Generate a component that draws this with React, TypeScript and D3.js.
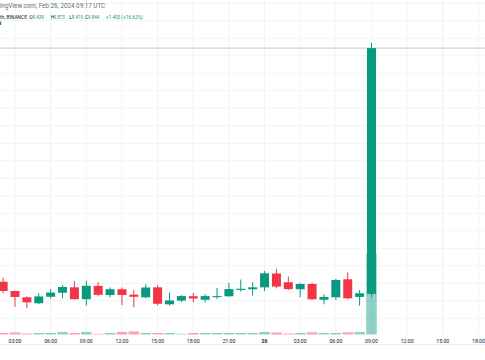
import React, { useEffect } from "react";
import * as d3 from "d3";

// hourly candles, UTC
const times = [
  "2024-02-25T02:00Z", "2024-02-25T03:00Z", "2024-02-25T04:00Z", "2024-02-25T05:00Z",
  "2024-02-25T06:00Z", "2024-02-25T07:00Z", "2024-02-25T08:00Z", "2024-02-25T09:00Z",
  "2024-02-25T10:00Z", "2024-02-25T11:00Z", "2024-02-25T12:00Z", "2024-02-25T13:00Z",
  "2024-02-25T14:00Z", "2024-02-25T15:00Z", "2024-02-25T16:00Z", "2024-02-25T17:00Z",
  "2024-02-25T18:00Z", "2024-02-25T19:00Z", "2024-02-25T20:00Z", "2024-02-25T21:00Z",
  "2024-02-25T22:00Z", "2024-02-25T23:00Z", "2024-02-26T00:00Z", "2024-02-26T01:00Z",
  "2024-02-26T02:00Z", "2024-02-26T03:00Z", "2024-02-26T04:00Z", "2024-02-26T05:00Z",
  "2024-02-26T06:00Z", "2024-02-26T07:00Z", "2024-02-26T08:00Z", "2024-02-26T09:00Z",
];
const opens = [8.509, 8.456, 8.42, 8.386, 8.423, 8.446, 8.477, 8.409, 8.485, 8.433, 8.466, 8.435, 8.42, 8.477, 8.38, 8.401, 8.426, 8.406, 8.425, 8.426, 8.462, 8.466, 8.477, 8.556, 8.506, 8.466, 8.496, 8.406, 8.42, 8.523, 8.422, 8.439];
const highs = [8.532, 8.458, 8.425, 8.443, 8.467, 8.49, 8.513, 8.515, 8.507, 8.477, 8.476, 8.462, 8.495, 8.49, 8.446, 8.433, 8.445, 8.439, 8.473, 8.502, 8.522, 8.506, 8.57, 8.582, 8.538, 8.502, 8.502, 8.437, 8.525, 8.563, 8.462, 9.873];
const lows = [8.443, 8.366, 8.357, 8.382, 8.412, 8.414, 8.408, 8.373, 8.425, 8.42, 8.376, 8.363, 8.414, 8.373, 8.372, 8.393, 8.391, 8.39, 8.41, 8.423, 8.452, 8.429, 8.456, 8.471, 8.462, 8.42, 8.405, 8.38, 8.405, 8.409, 8.372, 8.419];
const closes = [8.456, 8.422, 8.391, 8.425, 8.447, 8.479, 8.409, 8.486, 8.434, 8.466, 8.433, 8.423, 8.476, 8.383, 8.402, 8.427, 8.413, 8.427, 8.427, 8.467, 8.469, 8.477, 8.557, 8.481, 8.467, 8.496, 8.409, 8.422, 8.519, 8.414, 8.443, 9.844];
const volumes = [15, 20, 10, 15, 15, 25, 15, 25, 7, 15, 25, 30, 15, 15, 15, 7, 15, 15, 15, 15, 15, 15, 25, 20, 10, 15, 22, 15, 15, 22, 25, 810];

const priceTicks = [8.3, 8.4, 8.5, 8.6, 8.7, 8.8, 8.9, 9.0, 9.1, 9.2, 9.3, 9.4, 9.5, 9.6, 9.7, 9.8, 9.9, 10.0, 10.1];
const timeTicks = [
  "2024-02-25T03:00Z", "2024-02-25T06:00Z", "2024-02-25T09:00Z", "2024-02-25T12:00Z",
  "2024-02-25T15:00Z", "2024-02-25T18:00Z", "2024-02-25T21:00Z", "2024-02-26T00:00Z",
  "2024-02-26T03:00Z", "2024-02-26T06:00Z", "2024-02-26T09:00Z", "2024-02-26T12:00Z",
  "2024-02-26T15:00Z", "2024-02-26T18:00Z",
];
const legendLabels = ["O", "H", "L", "C"];
const legendValues = ["8.439", "9.873", "8.419", "9.844"];
const legendChange = "+1.403 (+16.62%)";

const GREEN = "#089981";
const RED = "#f23645";
const FONT = "Roboto, 'Noto Sans', sans-serif";

export default function App() {
  useEffect(() => {
    document.body.style.margin = "0";
  }, []);
  const W = 485, H = 360;
  const x = d3.scaleUtc()
    .domain([new Date("2024-02-25T03:00Z"), new Date("2024-02-26T09:00Z")])
    .range([15, 371.5]);
  const y = d3.scaleLinear().domain([8.2, 10.1]).range([335.8, 3.3]);
  const yv = d3.scaleLinear().domain([0, d3.max(volumes) as number]).range([334.5, 253.5]);
  const paneBottom = 334.5;
  const bodyW = 9;
  const volW = 10.6;
  const lastClose = closes[closes.length - 1];
  const fmtTime = (d: Date) =>
    d.getUTCHours() === 0 ? d3.utcFormat("%-d")(d) : d3.utcFormat("%H:%M")(d);
  const legendX = [29.3, 50.7, 69.3, 85];
  const legendValX = [32.6, 53.6, 71.8, 88];

  return (
    <svg width={W} height={H} style={{ position: "absolute", left: 0, top: 0, background: "#fff" }}>
      <rect x={0} y={0} width={W} height={H} fill="#fff" />
      {/* grid */}
      {priceTicks.map((p) => (
        <line key={"h" + p} x1={0} x2={W} y1={y(p)} y2={y(p)} stroke="#f0f3fa" strokeWidth={1} />
      ))}
      {timeTicks.map((t) => (
        <line key={"v" + t} x1={x(new Date(t))} x2={x(new Date(t))} y1={0} y2={paneBottom} stroke="#f0f3fa" strokeWidth={1} />
      ))}
      {/* volume */}
      {times.map((t, i) => {
        const cx = x(new Date(t));
        const up = closes[i] >= opens[i];
        return (
          <rect key={"vol" + i} x={cx - volW / 2} y={yv(volumes[i])} width={volW}
            height={paneBottom - yv(volumes[i])}
            fill={up ? "rgba(8,153,129,0.45)" : "rgba(242,54,69,0.45)"} />
        );
      })}
      {/* price line */}
      <line x1={0} x2={W} y1={y(lastClose)} y2={y(lastClose)} stroke="rgba(8,153,129,0.35)" strokeWidth={1} />
      {/* candles */}
      {times.map((t, i) => {
        const cx = x(new Date(t));
        const up = closes[i] >= opens[i];
        const c = up ? GREEN : RED;
        const top = y(Math.max(opens[i], closes[i]));
        const bot = y(Math.min(opens[i], closes[i]));
        return (
          <g key={"c" + i}>
            <line x1={cx} x2={cx} y1={y(highs[i])} y2={y(lows[i])} stroke={c} strokeWidth={1} />
            <rect x={cx - bodyW / 2} y={top} width={bodyW} height={Math.max(1, bot - top)} fill={c} />
          </g>
        );
      })}
      {/* time axis */}
      <line x1={0} x2={W} y1={344.5} y2={344.5} stroke="#eceef2" strokeWidth={1} />
      {timeTicks.map((t) => {
        const d = new Date(t);
        const mid = d.getUTCHours() === 0;
        return (
          <text key={"tl" + t} x={x(d)} y={342.8} textAnchor="middle" fontFamily={FONT}
            fontSize={5.2} fill="#131722" fontWeight={mid ? 700 : 400}>
            {fmtTime(d)}
          </text>
        );
      })}
      {/* header */}
      <text x={0} y={8.2} fontFamily={FONT} fontSize={6.3} fill="#6a6d78">ingView.com, Feb 26, 2024 09:17 UTC</text>
      <g fontFamily={FONT} fontSize={4.9}>
        <text x={0} y={18.8} fill="#131722">th, BINANCE</text>
        {legendLabels.map((l, i) => (
          <g key={l}>
            <text x={legendX[i]} y={18.8} fill="#131722">{l}</text>
            <text x={legendValX[i]} y={18.8} fill={GREEN} fontSize={4.5}>{legendValues[i]}</text>
          </g>
        ))}
        <text x={106} y={18.8} fill={GREEN} fontSize={4.7}>{legendChange}</text>
      </g>
      <rect x={0} y={21.5} width={1.2} height={3.5} fill={GREEN} />
    </svg>
  );
}
